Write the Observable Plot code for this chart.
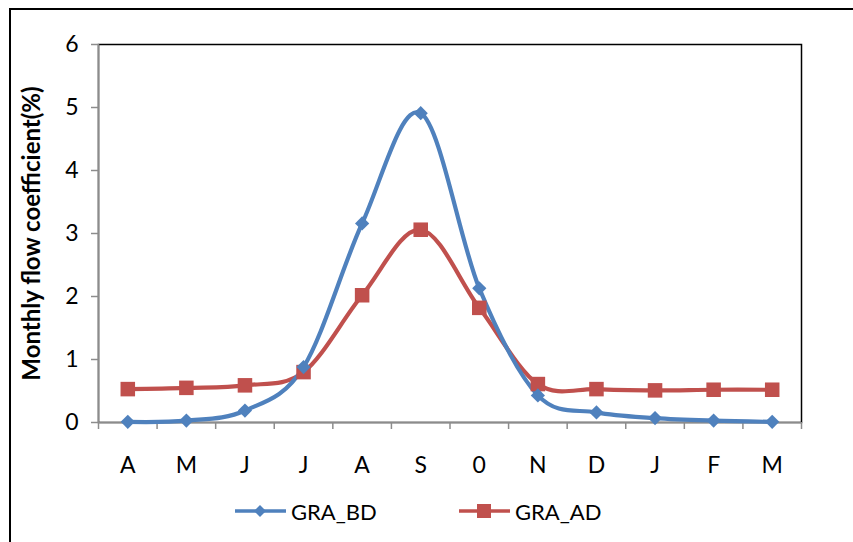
<!DOCTYPE html>
<html>
<head>
<meta charset="utf-8">
<script src="https://cdn.jsdelivr.net/npm/d3@7"></script>
<script src="https://cdn.jsdelivr.net/npm/@observablehq/plot@0.6"></script>
<style>
  html, body { margin: 0; padding: 0; background: #fff; }
  body { width: 853px; height: 542px; position: relative; overflow: hidden; font-family: Lato, "Open Sans", sans-serif; }
  #frame { position: absolute; left: 9px; top: 8px; width: 900px; height: 600px; border-left: 2px solid #000; border-top: 2px solid #000; }
  #chart { position: absolute; left: 0; top: 0; }
  #legend { position: absolute; left: 0; top: 496px; width: 853px; height: 30px; }
  .item { position: absolute; top: 0; display: flex; align-items: center; height: 30px; font-size: 22px; color: #000; }
  .item svg { margin-right: 5px; }
</style>
</head>
<body>
<div id="frame"></div>
<div id="chart"></div>
<div id="legend"></div>
<script>
const months = ["A", "M", "J", "J", "A", "S", "0", "N", "D", "J", "F", "M"];
const graBD = [0.01, 0.03, 0.19, 0.88, 3.16, 4.91, 2.13, 0.43, 0.16, 0.07, 0.03, 0.01];
const graAD = [0.53, 0.55, 0.59, 0.80, 2.02, 3.06, 1.82, 0.61, 0.53, 0.51, 0.52, 0.52];
const yTicks = [0, 1, 2, 3, 4, 5, 6];
const seriesNames = ["GRA_BD", "GRA_AD"];
const colors = ["#4F81BD", "#C0504D"];

const idx = months.map((m, i) => i);
const bd = idx.map(i => ({i, v: graBD[i]}));
const ad = idx.map(i => ({i, v: graAD[i]}));
const bounds = d3.range(months.length + 1).map(k => k - 0.5);

const chart = Plot.plot({
  width: 853,
  height: 490,
  marginLeft: 98,
  marginRight: 52,
  marginTop: 44,
  marginBottom: 68,
  style: {fontFamily: "Lato, 'Open Sans', sans-serif", fontSize: "23px", background: "transparent", overflow: "visible"},
  x: {domain: [-0.5, months.length - 0.5]},
  y: {domain: [0, 6]},
  marks: [
    Plot.frame({stroke: "#000", strokeWidth: 1.5}),
    Plot.ruleY([0], {stroke: "#8c8c8c", strokeWidth: 1.5}),
    Plot.ruleX([-0.5], {stroke: "#8c8c8c", strokeWidth: 1.5}),
    Plot.axisY({ticks: yTicks, tickFormat: d => String(d), tickSize: 7, tickPadding: 13, stroke: "#8c8c8c", strokeWidth: 1.5, fontSize: 23, fill: "#000", label: null}),
    Plot.axisX({ticks: bounds, tickSize: 7, tickFormat: () => "", stroke: "#8c8c8c", strokeWidth: 1.5, label: null}),
    Plot.axisX({ticks: idx, tickSize: 0, tickPadding: 34, tickFormat: i => months[i], fontSize: 23, fill: "#000", label: null}),
    Plot.text(["Monthly flow coefficient(%)"], {
      frameAnchor: "left", textAnchor: "middle", dx: -66, rotate: -90, fontSize: 24, fontWeight: "bold", fill: "#000", text: d => d
    }),
    Plot.line(ad, {x: "i", y: "v", stroke: colors[1], strokeWidth: 4.2, curve: "cardinal", tension: 0}),
    Plot.line(bd, {x: "i", y: "v", stroke: colors[0], strokeWidth: 4.2, curve: "cardinal", tension: 0}),
    Plot.dot(ad, {x: "i", y: "v", symbol: "square", r: 8.2, fill: colors[1], stroke: "none"}),
    Plot.dot(bd, {x: "i", y: "v", symbol: "diamond2", r: 6.4, fill: colors[0], stroke: "none"})
  ]
});
document.getElementById("chart").appendChild(chart);

// Legend
const legend = document.getElementById("legend");
const lefts = [235, 459];
seriesNames.forEach((name, k) => {
  const item = document.createElement("div");
  item.className = "item";
  item.style.left = lefts[k] + "px";
  const marker = k === 0
    ? `<path d="M25,9 L31,15 L25,21 L19,15 Z" fill="${colors[k]}"/>`
    : `<rect x="18" y="8" width="14" height="14" fill="${colors[k]}"/>`;
  item.innerHTML = `<svg width="51" height="30"><line x1="0" y1="15" x2="51" y2="15" stroke="${colors[k]}" stroke-width="3.5"/>${marker}</svg><span>${name}</span>`;
  legend.appendChild(item);
});
</script>
</body>
</html>
